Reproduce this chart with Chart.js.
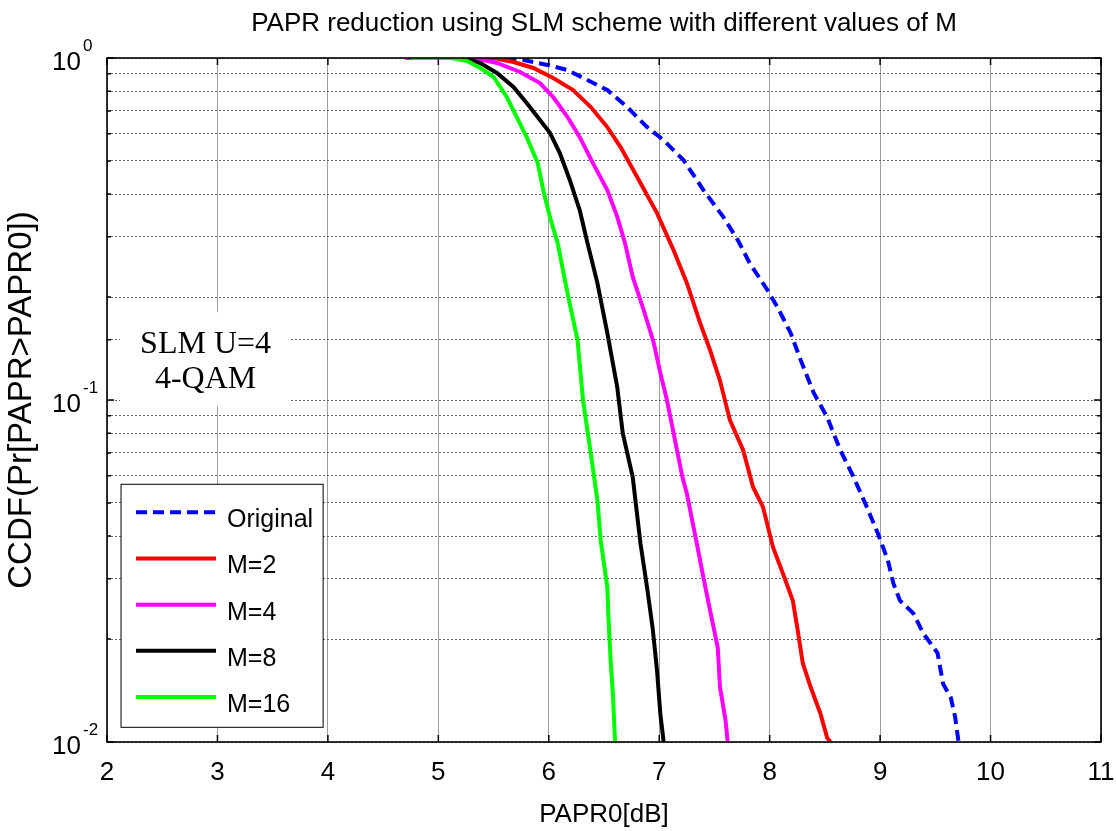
<!DOCTYPE html>
<html><head><meta charset="utf-8">
<script src="https://cdn.jsdelivr.net/npm/chart.js@4.4.0/dist/chart.umd.min.js"></script>
<style>html,body{margin:0;padding:0;background:#fff;}</style>
</head><body>
<canvas id="c" width="1116" height="831"></canvas>
<script>
// ---------- data ----------
const chartTitle = 'PAPR reduction using SLM scheme with different values of M';
const xAxisTitle = 'PAPR0[dB]';
const yAxisTitle = 'CCDF(Pr[PAPR>PAPR0])';
const seriesNames = ['Original', 'M=2', 'M=4', 'M=8', 'M=16'];
const xTickValues = [2, 3, 4, 5, 6, 7, 8, 9, 10, 11];
const yTickValues = [1, 0.1, 0.01];
const yTickBases = ['10', '10', '10'];
const yTickExps = ['0', '-1', '-2'];
const noteLines = ['SLM U=4', '4-QAM'];

const originalX = [5.30, 5.56, 5.77, 5.99, 6.17, 6.35, 6.53, 6.71, 6.89, 7.04, 7.22, 7.40, 7.58, 7.71, 7.82, 7.98, 8.07, 8.19, 8.28, 8.40, 8.52, 8.64, 8.76, 8.88, 8.98, 9.07, 9.12, 9.18, 9.30, 9.39, 9.52, 9.57, 9.64, 9.68, 9.71];
const originalY = [1, 0.998, 0.987, 0.954, 0.922, 0.862, 0.806, 0.719, 0.628, 0.575, 0.503, 0.411, 0.343, 0.294, 0.251, 0.2095, 0.187, 0.157, 0.131, 0.1047, 0.0891, 0.0713, 0.0595, 0.0486, 0.0407, 0.034, 0.0291, 0.0259, 0.0238, 0.0208, 0.0182, 0.0148, 0.0135, 0.0118, 0.01];

const m2X = [5.20, 5.50, 5.68, 5.86, 6.04, 6.22, 6.38, 6.53, 6.65, 6.83, 6.98, 7.13, 7.25, 7.37, 7.46, 7.55, 7.64, 7.76, 7.85, 7.94, 8.03, 8.12, 8.21, 8.25, 8.30, 8.37, 8.46, 8.52, 8.55];
const m2Y = [1, 1, 0.973, 0.935, 0.874, 0.806, 0.719, 0.628, 0.549, 0.431, 0.352, 0.274, 0.220, 0.168, 0.140, 0.114, 0.0873, 0.0713, 0.0556, 0.0486, 0.0371, 0.0311, 0.0259, 0.0216, 0.0170, 0.0145, 0.0121, 0.0103, 0.01];

const m4X = [4.70, 5.32, 5.53, 5.74, 5.92, 6.04, 6.17, 6.28, 6.40, 6.53, 6.62, 6.69, 6.76, 6.86, 6.95, 7.01, 7.07, 7.13, 7.21, 7.25, 7.34, 7.40, 7.46, 7.53, 7.55, 7.60, 7.62];
const m4Y = [1, 1, 0.967, 0.910, 0.845, 0.769, 0.672, 0.587, 0.493, 0.411, 0.343, 0.288, 0.229, 0.183, 0.147, 0.120, 0.0999, 0.080, 0.0595, 0.0533, 0.0381, 0.0303, 0.0243, 0.0189, 0.0145, 0.0116, 0.01];

const m8X = [4.85, 5.23, 5.38, 5.53, 5.68, 5.80, 5.92, 6.01, 6.10, 6.19, 6.28, 6.35, 6.44, 6.53, 6.62, 6.67, 6.76, 6.83, 6.89, 6.94, 6.98, 7.01, 7.04];
const m8Y = [1, 1, 0.967, 0.904, 0.823, 0.739, 0.659, 0.604, 0.527, 0.440, 0.359, 0.288, 0.220, 0.157, 0.109, 0.080, 0.0595, 0.0381, 0.0283, 0.0216, 0.0162, 0.0121, 0.01];

const m16X = [4.75, 5.11, 5.26, 5.38, 5.50, 5.62, 5.71, 5.80, 5.90, 5.95, 6.01, 6.08, 6.17, 6.26, 6.31, 6.38, 6.44, 6.47, 6.53, 6.54, 6.56, 6.58, 6.60];
const m16Y = [1, 1, 0.98, 0.935, 0.88, 0.769, 0.672, 0.587, 0.493, 0.411, 0.343, 0.288, 0.205, 0.150, 0.0999, 0.0699, 0.0509, 0.0389, 0.0283, 0.0232, 0.0173, 0.0139, 0.01];

// ---------- styling ----------
const REG = '"Liberation Sans", Arial, Helvetica, sans-serif';
const SERIF = '"Liberation Serif", "Times New Roman", serif';
const colors = ['#0000ff', '#ff0000', '#ff00ff', '#000000', '#00ff00'];
const dashes = [[11, 6], [], [], [], []];
const xsAll = [originalX, m2X, m4X, m8X, m16X];
const ysAll = [originalY, m2Y, m4Y, m8Y, m16Y];

const datasets = seriesNames.map((name, i) => ({
  label: name,
  data: xsAll[i].map((x, j) => ({ x: x, y: ysAll[i][j] })),
  borderColor: colors[i],
  backgroundColor: colors[i],
  borderWidth: 4,
  borderDash: dashes[i],
  pointRadius: 0,
  showLine: true,
  tension: 0,
  fill: false,
  clip: 0,
  order: seriesNames.length - i
}));

const decoPlugin = {
  id: 'deco',
  beforeDatasetsDraw(chart) {
    const ctx = chart.ctx, xs = chart.scales.x, ys = chart.scales.y;
    const l = xs.getPixelForValue(2.118), r = xs.getPixelForValue(3.667);
    const t = ys.getPixelForValue(0.1807), b = ys.getPixelForValue(0.0959);
    ctx.save();
    ctx.fillStyle = '#fff';
    ctx.fillRect(l, t, r - l, b - t);
    ctx.fillStyle = '#000';
    ctx.font = '32px ' + SERIF;
    ctx.textAlign = 'center';
    ctx.textBaseline = 'alphabetic';
    const cx = (l + r) / 2;
    ctx.fillText(noteLines[0], cx, t + 41);
    ctx.fillText(noteLines[1], cx, t + 76);
    ctx.restore();
  },
  afterDatasetsDraw(chart) {
    const ctx = chart.ctx, xs = chart.scales.x, ys = chart.scales.y, ca = chart.chartArea;
    ctx.save();
    ctx.strokeStyle = '#000';
    ctx.lineWidth = 1.5;
    ctx.beginPath();
    xTickValues.forEach(v => {
      const p = xs.getPixelForValue(v);
      ctx.moveTo(p, ca.bottom); ctx.lineTo(p, ca.bottom - 7);
      ctx.moveTo(p, ca.top); ctx.lineTo(p, ca.top + 7);
    });
    ys.ticks.forEach(tk => {
      const p = ys.getPixelForValue(tk.value);
      const major = yTickValues.some(v => Math.abs(Math.log10(v) - Math.log10(tk.value)) < 1e-6);
      const len = major ? 7 : 4;
      ctx.moveTo(ca.left, p); ctx.lineTo(ca.left + len, p);
      ctx.moveTo(ca.right, p); ctx.lineTo(ca.right - len, p);
    });
    ctx.stroke();
    ctx.lineWidth = 1.6;
    ctx.strokeRect(ca.left, ca.top, ca.right - ca.left, ca.bottom - ca.top);

    // legend
    const ll = xs.getPixelForValue(2.127), lr = xs.getPixelForValue(3.957);
    const lt = ys.getPixelForValue(0.0567), lb = ys.getPixelForValue(0.01104);
    ctx.fillStyle = '#fff';
    ctx.fillRect(ll, lt, lr - ll, lb - lt);
    ctx.lineWidth = 1;
    ctx.strokeStyle = '#000';
    ctx.strokeRect(ll, lt, lr - ll, lb - lt);
    ctx.font = '25px ' + REG;
    ctx.textAlign = 'left';
    ctx.textBaseline = 'alphabetic';
    chart.data.datasets.forEach((ds, i) => {
      const y = lt + 28 + i * 46.2;
      ctx.beginPath();
      ctx.strokeStyle = ds.borderColor;
      ctx.lineWidth = 4;
      ctx.setLineDash(ds.borderDash || []);
      ctx.moveTo(ll + 15, y); ctx.lineTo(ll + 95, y);
      ctx.stroke();
      ctx.setLineDash([]);
      ctx.fillStyle = '#000';
      ctx.fillText(ds.label, ll + 106, y + 15);
    });

    // y tick labels with superscripts
    yTickValues.forEach((v, i) => {
      const p = ys.getPixelForValue(v);
      ctx.fillStyle = '#000';
      ctx.font = '26px ' + REG;
      ctx.textAlign = 'right';
      ctx.fillText(yTickBases[i], ca.left - 26, p + 12);
      ctx.font = '17px ' + REG;
      ctx.textAlign = 'left';
      ctx.fillText(yTickExps[i], ca.left - 24, p - 7);
    });
    ctx.restore();
  }
};

new Chart(document.getElementById('c'), {
  type: 'scatter',
  data: { datasets: datasets },
  options: {
    responsive: false,
    animation: false,
    layout: { padding: { left: 0, right: 15, top: 0, bottom: 0 } },
    plugins: {
      legend: { display: false },
      tooltip: { enabled: false },
      title: {
        display: true, text: chartTitle, fullSize: false, color: '#000',
        font: { family: REG, size: 26, weight: 'normal', lineHeight: 1.2 },
        padding: { top: 8, bottom: 18.8 }
      }
    },
    scales: {
      x: {
        type: 'linear', min: 2, max: 11,
        afterBuildTicks: s => { s.ticks = xTickValues.map(v => ({ value: v })); },
        ticks: { color: '#000', font: { family: REG, size: 26 }, padding: 15, autoSkip: false, maxRotation: 0 },
        grid: { color: 'rgba(0,0,0,0.38)', lineWidth: 1, drawTicks: false },
        border: { display: false },
        title: { display: true, text: xAxisTitle, color: '#000', font: { family: REG, size: 26, lineHeight: 1 }, padding: { top: 0, bottom: 3 } },
        afterFit: s => { s.height = 89; s.paddingLeft = 0; s.paddingRight = 0; }
      },
      y: {
        type: 'logarithmic', min: 0.01, max: 1,
        ticks: { callback: () => '', autoSkip: false, padding: 0 },
        grid: { color: '#666', lineWidth: 1, drawTicks: false },
        border: { display: false, dash: [2, 2] },
        title: { display: true, text: yAxisTitle, color: '#000', font: { family: REG, size: 33, lineHeight: 1 }, padding: { top: 5.5, bottom: 0 } },
        afterFit: s => { s.width = 107; s.paddingTop = 0; s.paddingBottom = 0; }
      }
    }
  },
  plugins: [decoPlugin]
});
</script>
</body></html>
